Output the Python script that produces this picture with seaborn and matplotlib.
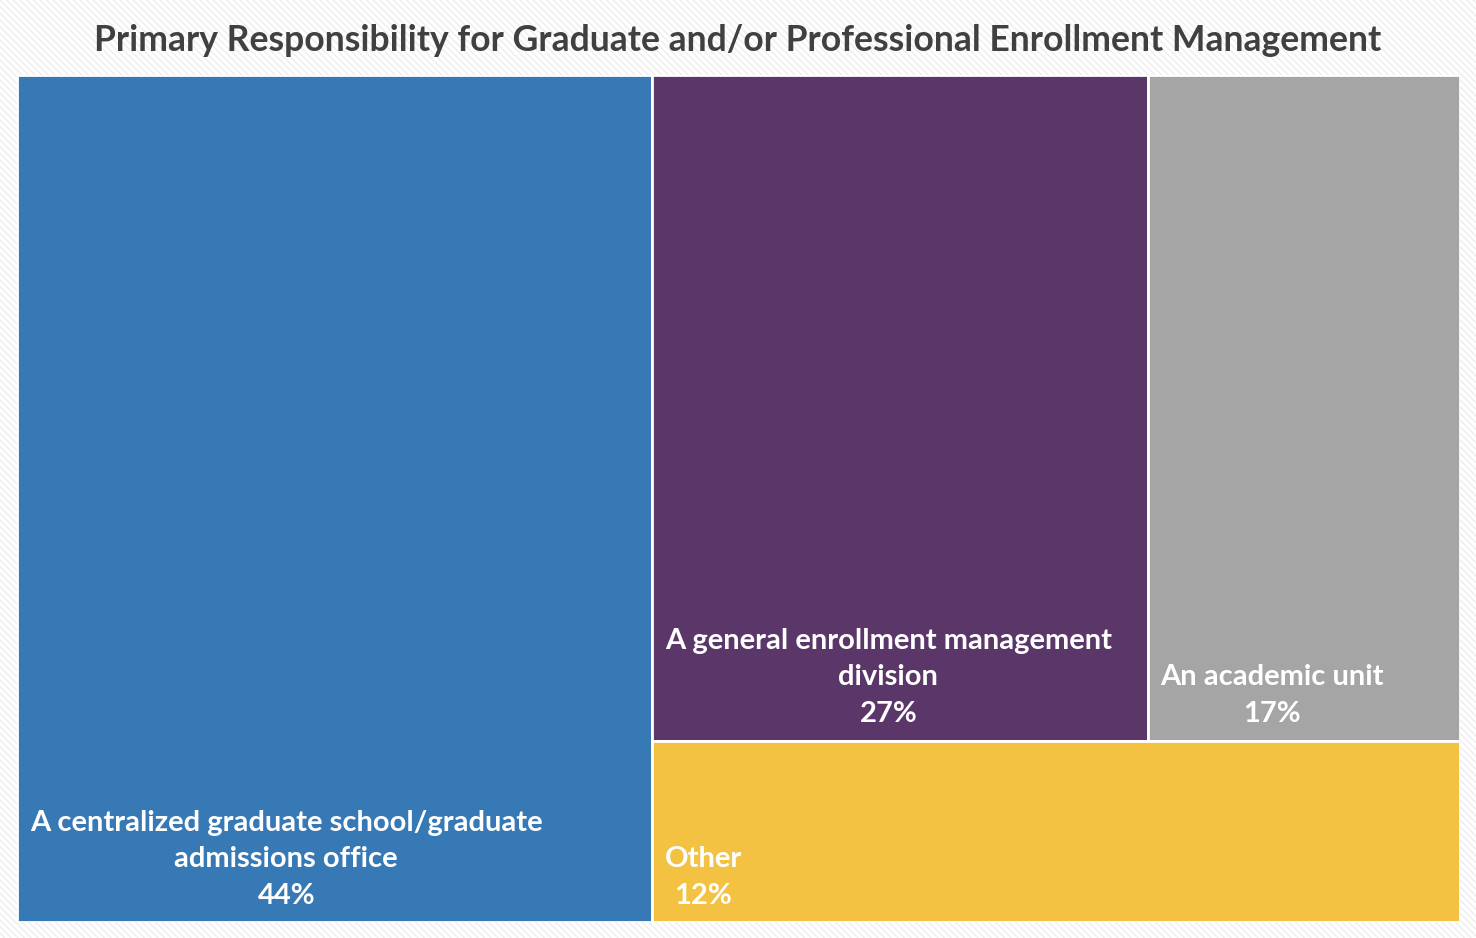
import matplotlib
matplotlib.use("Agg")
import matplotlib.pyplot as plt
from matplotlib.patches import Rectangle
import seaborn as sns

# Treemap data
categories = [
    "A centralized graduate school/graduate\nadmissions office",
    "A general enrollment management\ndivision",
    "An academic unit",
    "Other",
]
shares = [44, 27, 17, 12]
colors = ["#3779b5", "#5a3768", "#a5a5a5", "#f4c243"]

sns.set_theme(style="white")
plt.rcParams["font.family"] = ["Lato", "DejaVu Sans"]


def layout(vals, x0=0.0, y0=0.0, w=100.0, h=100.0):
    """Slice the first value as a column, then the next two as a row on top
    of the remaining area, and the last one along the bottom."""
    total = sum(vals)
    rects = []
    w0 = w * vals[0] / total
    rects.append((x0, y0, w0, h))
    rest = vals[1:]
    rx, rw = x0 + w0, w - w0
    top = rest[:-1]
    top_h = h * sum(top) / sum(rest)
    bottom_h = h - top_h
    cx = rx
    for v in top:
        cw = rw * v / sum(top)
        rects.append((cx, y0 + bottom_h, cw, top_h))
        cx += cw
    rects.append((rx, y0, rw, bottom_h))
    return rects


fig = plt.figure(figsize=(14.76, 9.38), dpi=100)
# light hatched backdrop
bg = Rectangle((0, 0), 1, 1, transform=fig.transFigure, facecolor="white",
               edgecolor="#ededed", hatch="\\\\\\\\\\", linewidth=0, zorder=-10)
fig.patches.append(bg)

ax = fig.add_axes([0.0115, 0.017, 0.9775, 0.903])
ax.set_xlim(0, 100)
ax.set_ylim(0, 100)
ax.axis("off")

for (x, y, w, h), label, val, col in zip(layout(shares), categories, shares, colors):
    ax.add_patch(Rectangle((x, y), w, h, facecolor=col, edgecolor="white",
                           linewidth=2))
    ax.text(x + 0.9, y + 1.6, f"{label}\n{val}%", ha="left", va="bottom",
            multialignment="center", color="white", fontsize=21,
            fontweight="bold", linespacing=1.5)

fig.text(0.5, 0.957, "Primary Responsibility for Graduate and/or Professional Enrollment Management",
         ha="center", va="center", fontsize=25.6, fontweight="bold", color="#404040")

fig.savefig("out.png", dpi=100)
